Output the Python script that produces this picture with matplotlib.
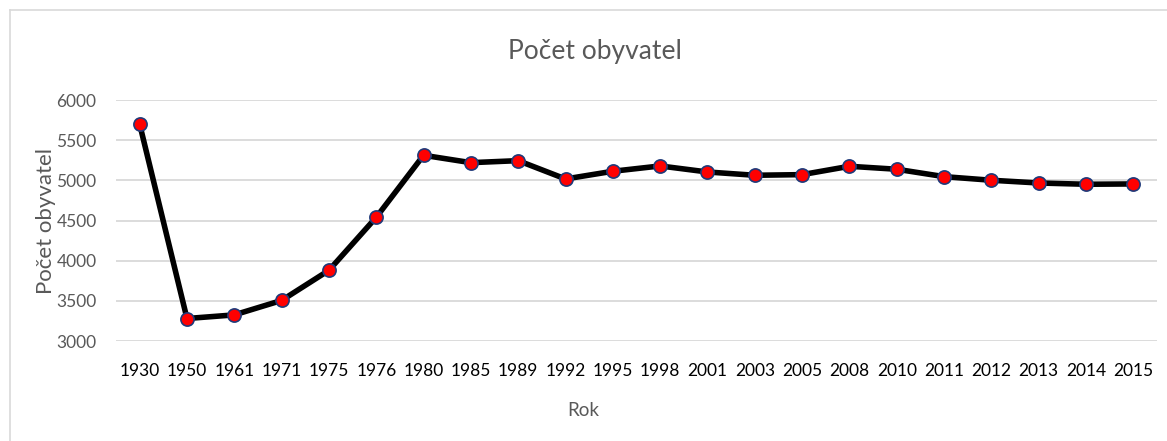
import matplotlib.pyplot as plt
from matplotlib.lines import Line2D

# data
years = ["1930", "1950", "1961", "1971", "1975", "1976", "1980", "1985", "1989",
         "1992", "1995", "1998", "2001", "2003", "2005", "2008", "2010", "2011",
         "2012", "2013", "2014", "2015"]
population = [5700, 3280, 3325, 3505, 3880, 4540, 5312, 5220, 5245, 5017, 5113,
              5179, 5104, 5063, 5071, 5175, 5138, 5046, 5001, 4967, 4951, 4955]
yticks = [3000, 3500, 4000, 4500, 5000, 5500, 6000]

plt.rcParams['font.family'] = ['Lato', 'DejaVu Sans']

fig = plt.figure(figsize=(11.67, 4.41), dpi=100)
ax = fig.add_axes([116/1167, 1 - 341/441, (1157 - 116)/1167, (341 - 100)/441])

x = list(range(len(years)))
ax.plot(x, population, color="black", linewidth=4, zorder=3,
        marker="o", markersize=9.5, markerfacecolor="#ff0000",
        markeredgecolor="#1f3a7a", markeredgewidth=1.2)

ax.set_xlim(-0.5, len(years) - 0.5)
ax.set_ylim(3000, 6000)
ax.set_xticks(x)
ax.set_xticklabels(years, fontsize=12.5, color="black")
ax.set_yticks(yticks)
ax.set_yticklabels([str(v) for v in yticks], fontsize=12.5, color="#595959")
ax.tick_params(axis="both", length=0)
ax.tick_params(axis="x", pad=16)
ax.tick_params(axis="y", pad=14)
ax.grid(axis="y", color="#d9d9d9", linewidth=1.3)
ax.set_axisbelow(True)
for s in ax.spines.values():
    s.set_visible(False)

fig.text(0.51, 1 - 52/441, "Počet obyvatel", ha="center", va="center",
         fontsize=19, color="#595959")
fig.text(46/1167, 1 - 221/441, "Počet obyvatel", ha="center", va="center",
         rotation=90, fontsize=16, color="#595959")
fig.text(583/1167, 1 - 411/441, "Rok", ha="center", va="center",
         fontsize=13.5, color="#595959")

# outer chart border (left and top visible)
fig.add_artist(Line2D([10/1167, 10/1167], [0, 1 - 10/441], color="#d9d9d9", lw=1.2))
fig.add_artist(Line2D([10/1167, 1], [1 - 10/441, 1 - 10/441], color="#d9d9d9", lw=1.2))

fig.savefig("out.png", dpi=100)
